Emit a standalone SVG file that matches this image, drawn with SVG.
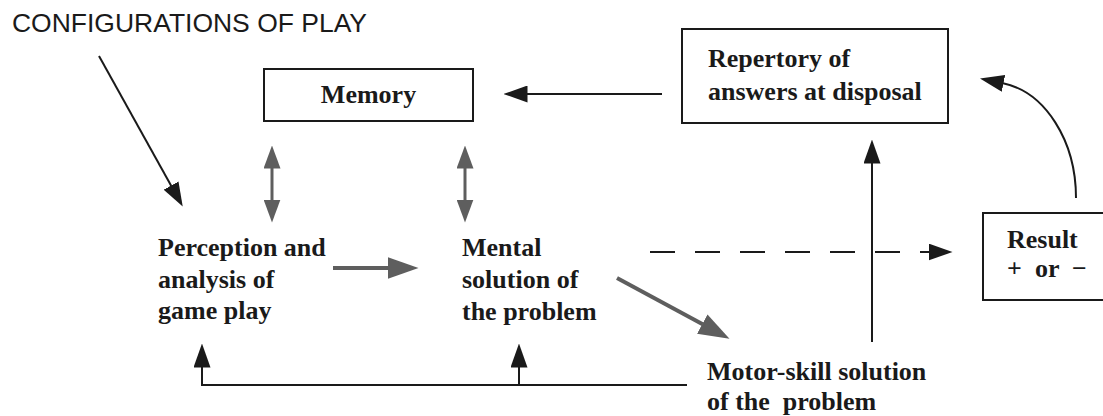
<svg xmlns="http://www.w3.org/2000/svg" width="1103" height="416" viewBox="0 0 1103 416">
  <style>
    .box { fill: #fff; stroke: #1a1a1a; stroke-width: 2; }
    .lbl { font-family: "Liberation Serif", "Times New Roman", serif; font-weight: bold; font-size: 26px; fill: #1a1a1a; }
    .cap { font-family: "Liberation Sans", Arial, sans-serif; font-size: 26px; fill: #1a1a1a; }
    .blk { fill: none; stroke: #1a1a1a; stroke-width: 2; }
    .gry { fill: none; stroke: #5e5e5e; stroke-width: 4; }
    .gry-thin { fill: none; stroke: #5e5e5e; stroke-width: 3; }
  </style>
  <defs>
    <marker id="ah" markerUnits="userSpaceOnUse" markerWidth="24" markerHeight="17" viewBox="0 0 24 17" refX="0.5" refY="8.5" orient="auto">
      <path d="M0,0 L24,8.5 L0,17 Z" fill="#1a1a1a"/>
    </marker>
    <marker id="ahg" markerUnits="userSpaceOnUse" markerWidth="31" markerHeight="22" viewBox="0 0 31 22" refX="0.5" refY="11" orient="auto">
      <path d="M0,0 L31,11 L0,22 Z" fill="#5e5e5e"/>
    </marker>
    <marker id="ahs" markerUnits="userSpaceOnUse" markerWidth="23" markerHeight="17" viewBox="0 0 23 17" refX="0.5" refY="8.5" orient="auto-start-reverse">
      <path d="M0,0 L23,8.5 L0,17 Z" fill="#5e5e5e"/>
    </marker>
  </defs>

  <rect width="1103" height="416" fill="#fff"/>

  <!-- heading outside the flow -->
  <g id="configurations">
    <text class="cap" x="12" y="32" textLength="355" lengthAdjust="spacingAndGlyphs">CONFIGURATIONS OF PLAY</text>
  </g>

  <g id="memory">
    <rect class="box" x="264" y="69" width="209" height="52"/>
    <text class="lbl" x="368.5" y="103" text-anchor="middle">Memory</text>
  </g>

  <g id="repertory">
    <rect class="box" x="682" y="29" width="266" height="94"/>
    <text class="lbl" x="708" y="67">Repertory of</text>
    <text class="lbl" x="708" y="100">answers at disposal</text>
  </g>

  <g id="perception">
    <text class="lbl" x="158" y="256">Perception and</text>
    <text class="lbl" x="158" y="288">analysis of</text>
    <text class="lbl" x="158" y="319">game play</text>
  </g>

  <g id="mental">
    <text class="lbl" x="462" y="256">Mental</text>
    <text class="lbl" x="462" y="288">solution of</text>
    <text class="lbl" x="462" y="320">the problem</text>
  </g>

  <g id="motor">
    <text class="lbl" x="707" y="380">Motor-skill solution</text>
    <text class="lbl" x="707" y="410" xml:space="preserve">of the  problem</text>
  </g>

  <g id="result">
    <rect class="box" x="983" y="213" width="140" height="87"/>
    <text class="lbl" x="1007" y="248">Result</text>
    <text class="lbl" y="277"><tspan x="1007">+</tspan><tspan x="1035">or</tspan><tspan x="1072">−</tspan></text>
  </g>

  <g id="connectors">
    <!-- incoming configurations -->
    <line class="blk" x1="99" y1="56" x2="171.3" y2="186" marker-end="url(#ah)"/>
    <!-- repertory feeds memory -->
    <line class="blk" x1="662" y1="94" x2="527" y2="94" marker-end="url(#ah)"/>
    <!-- two-way exchange with memory -->
    <line class="gry-thin" x1="272" y1="168" x2="272" y2="200" marker-start="url(#ahs)" marker-end="url(#ahs)"/>
    <line class="gry-thin" x1="465" y1="168" x2="465" y2="200" marker-start="url(#ahs)" marker-end="url(#ahs)"/>
    <!-- perception to mental solution -->
    <line class="gry" x1="333" y1="268" x2="388" y2="268" marker-end="url(#ahg)"/>
    <!-- mental to motor-skill solution -->
    <line class="gry" x1="617" y1="278" x2="702.7" y2="324.3" marker-end="url(#ahg)"/>
    <!-- expected outcome (dashed) -->
    <line class="blk" x1="650" y1="252" x2="929" y2="252" stroke-dasharray="25 20" marker-end="url(#ah)"/>
    <!-- motor-skill up to repertory -->
    <line class="blk" x1="872" y1="342" x2="872" y2="163" marker-end="url(#ah)"/>
    <!-- result back to repertory -->
    <path class="blk" d="M1076,198 A86,116 0 0 0 1003,83.3" marker-end="url(#ah)"/>
    <!-- feedback along the bottom -->
    <path class="blk" d="M687,385 H202 V367" marker-end="url(#ah)"/>
    <path class="blk" d="M519,385 V367" marker-end="url(#ah)"/>
  </g>
</svg>
